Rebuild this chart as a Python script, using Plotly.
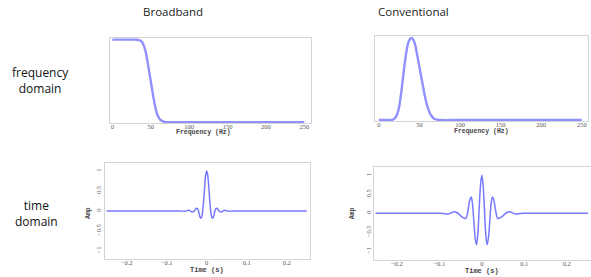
import plotly.graph_objects as go

# ---- data ----
bb_freq = [0, 10, 20, 30, 35, 38, 41, 44, 47, 50, 53, 56, 59, 62, 66, 70, 80, 120, 180, 250]
bb_amp = [1, 1, 1, 1, 0.995, 0.98, 0.93, 0.83, 0.67, 0.5, 0.33, 0.18, 0.08, 0.035, 0.01, 0.0, 0, 0, 0, 0]

cv_freq = [0, 10, 15, 18, 21, 24, 27, 30, 33, 36, 39, 41, 44, 47, 50, 53, 56, 59, 62, 65, 68, 72, 76, 100, 150, 250]
cv_amp = [0, 0, 0, 0.01, 0.04, 0.12, 0.3, 0.55, 0.78, 0.94, 1.0, 1.0, 0.94, 0.8, 0.64, 0.48, 0.32, 0.19, 0.1, 0.045, 0.015, 0.003, 0, 0, 0, 0]

bb_t_half = [0, 0.0025, 0.005, 0.0075, 0.01, 0.0125, 0.0145, 0.017, 0.02, 0.0225, 0.025, 0.0285, 0.032, 0.036, 0.04, 0.045, 0.05, 0.055, 0.065, 0.1, 0.25]
bb_w_half = [1.0, 0.9, 0.62, 0.28, 0.0, -0.15, -0.18, -0.14, -0.02, 0.05, 0.067, 0.04, -0.01, -0.025, -0.005, 0.02, 0.005, -0.005, 0, 0, 0]

cv_t_half = [0, 0.0031, 0.0063, 0.0094, 0.0125, 0.0156, 0.0188, 0.0219, 0.025, 0.0283, 0.0315, 0.0348, 0.038, 0.0448, 0.0515, 0.058, 0.065, 0.0725, 0.08, 0.09, 0.1, 0.25]
cv_w_half = [1.0, 0.73, 0.085, -0.56, -0.83, -0.645, -0.2, 0.245, 0.43, 0.345, 0.145, -0.055, -0.14, -0.11, -0.05, 0.014, 0.04, 0.01, -0.025, -0.005, 0, 0]

freq_ticks = [0, 50, 100, 150, 200, 250]
time_ticks = [-0.2, -0.1, 0, 0.1, 0.2]
time_tick_text = ["\u22120.2", "\u22120.1", "0", "0.1", "0.2"]
amp_ticks = [-1, -0.5, 0, 0.5, 1]
amp_tick_text = ["\u22121", "\u22120.5", "0", "0.5", "1"]

col_titles = ["Broadband", "Conventional"]
row_titles = ["frequency<br>domain", "time<br>domain"]

# symmetric wavelets from the read half
bb_t = [-t for t in bb_t_half[::-1]] + bb_t_half[1:]
bb_w = bb_w_half[::-1] + bb_w_half[1:]
cv_t = [-t for t in cv_t_half[::-1]] + cv_t_half[1:]
cv_w = cv_w_half[::-1] + cv_w_half[1:]

W, H = 591, 277
def px(x):
    return x / W
def py(y):
    return 1 - y / H

fig = go.Figure()
top_line = dict(color="rgba(125,125,255,0.85)", width=2.4)
bot_line = dict(color="rgba(105,105,255,0.9)", width=1.5)

fig.add_trace(go.Scatter(x=bb_freq, y=bb_amp, mode="lines", line=top_line, line_shape="spline", xaxis="x", yaxis="y"))
fig.add_trace(go.Scatter(x=cv_freq, y=cv_amp, mode="lines", line=top_line, line_shape="spline", xaxis="x2", yaxis="y2"))
fig.add_trace(go.Scatter(x=bb_t, y=bb_w, mode="lines", line=bot_line, line_shape="spline", xaxis="x3", yaxis="y3"))
fig.add_trace(go.Scatter(x=cv_t, y=cv_w, mode="lines", line=bot_line, line_shape="spline", xaxis="x4", yaxis="y4"))

tickfont = dict(family="Liberation Serif", size=6.5, color="#555")
frame = dict(showline=True, linecolor="#d4d4d4", linewidth=1, mirror=True, showgrid=False, zeroline=False)
xt = dict(tickfont=tickfont, ticks="", ticklabelstandoff=-3)
yt = dict(tickfont=tickfont, ticks="", ticklabelstandoff=0)

layout = dict(
    width=W, height=H, margin=dict(l=0, r=0, t=0, b=0),
    paper_bgcolor="white", plot_bgcolor="white", showlegend=False,
    xaxis=dict(domain=[px(110), px(311)], range=[-3, 258.6], tickvals=freq_ticks, anchor="y", **xt, **frame),
    yaxis=dict(domain=[py(123), py(38)], range=[-0.01, 1.02], showticklabels=False, anchor="x", **frame),
    xaxis2=dict(domain=[px(375), px(588)], range=[-4.9, 257.7], tickvals=freq_ticks, anchor="y2", **xt, **frame),
    yaxis2=dict(domain=[py(121), py(36)], range=[-0.012, 1.028], showticklabels=False, anchor="x2", **frame),
    xaxis3=dict(domain=[px(105), px(310)], range=[-0.254, 0.258], tickvals=time_ticks, ticktext=time_tick_text,
                anchor="y3", **xt, **frame),
    yaxis3=dict(domain=[py(259), py(162.7)], range=[-1.2, 1.2075], tickvals=amp_ticks, ticktext=amp_tick_text,
                tickangle=-90, anchor="x3", **yt, **frame),
    xaxis4=dict(domain=[px(374.3), 1.0], range=[-0.253, 0.257], tickvals=time_ticks, ticktext=time_tick_text,
                anchor="y4", **xt, **frame),
    yaxis4=dict(domain=[py(260), py(167.3)], range=[-1.23, 1.21], tickvals=amp_ticks, ticktext=amp_tick_text,
                tickangle=-90, anchor="x4", **yt, **frame),
)

ann = []
head_font = dict(family="Open Sans", size=11.5, color="#222")
ann.append(dict(text=col_titles[0], x=px(173), y=py(12), font=head_font))
ann.append(dict(text=col_titles[1], x=px(413), y=py(12), font=head_font))
row_font = dict(family="Open Sans", size=12, color="#111")
ann.append(dict(text=row_titles[0], x=px(40), y=py(81), font=row_font))
ann.append(dict(text=row_titles[1], x=px(36), y=py(213.5), font=row_font))
lab_font = dict(family="Liberation Mono", size=6.5, color="#444", weight="bold")
lab_font2 = dict(family="Liberation Mono", size=7, color="#444", weight="bold")
ann.append(dict(text="Frequency (Hz)", x=px(203), y=py(132.5), font=lab_font))
ann.append(dict(text="Frequency (Hz)", x=px(481.7), y=py(131), font=lab_font))
ann.append(dict(text="Time (s)", x=px(206.7), y=py(270), font=lab_font2))
ann.append(dict(text="Time (s)", x=px(481.7), y=py(270.5), font=lab_font2))
ann.append(dict(text="Amp", x=px(88.3), y=py(212.7), font=lab_font, textangle=-90))
ann.append(dict(text="Amp", x=px(352), y=py(213.3), font=lab_font, textangle=-90))
for a in ann:
    a.update(xref="paper", yref="paper", showarrow=False, xanchor="center", yanchor="middle")
layout["annotations"] = ann

fig.update_layout(**layout)
fig.write_html("out.html", config={"displayModeBar": False},
               post_script="document.body.style.margin='0';document.body.style.overflow='hidden';")
